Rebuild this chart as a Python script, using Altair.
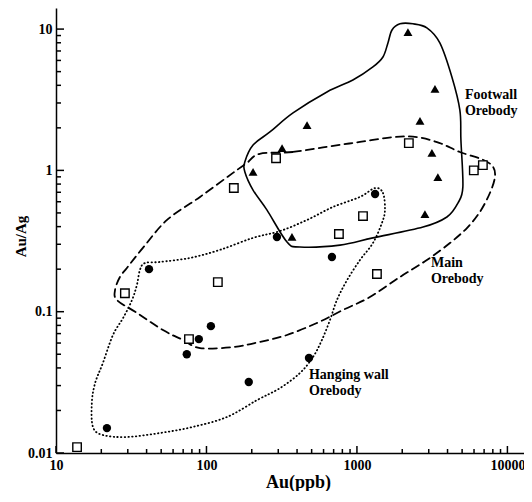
import altair as alt
import pandas as pd

# ---- data ----
# Footwall orebody (filled triangles)
fw_au = [2183, 3300, 2624, 466, 318, 3150, 3450, 2830, 370, 204]
fw_ratio = [9.5, 3.77, 2.24, 2.09, 1.44, 1.33, 0.897, 0.49, 0.338, 0.975]
# Main orebody (open squares)
main_au = [152, 290, 2213, 5980, 6870, 1097, 759, 1358, 119, 28.7, 76.5, 13.8]
main_ratio = [0.75, 1.22, 1.56, 1.0, 1.09, 0.475, 0.355, 0.185, 0.162, 0.135, 0.064, 0.011]
# Hanging wall orebody (filled circles)
hw_au = [1320, 294, 682, 480, 41.5, 107, 89, 74, 191, 21.8]
hw_ratio = [0.68, 0.338, 0.244, 0.047, 0.2, 0.079, 0.064, 0.05, 0.0318, 0.015]

# Field outlines (closed curves)
fw_line_au = [2355, 2917, 3556, 4276, 4831, 4909, 5058, 4688, 3963, 2748, 1277, 771,
              418, 343, 252, 204, 180, 180, 204, 264, 376, 632, 940, 1277, 1489, 1607,
              1710, 1932]
fw_line_ratio = [10.9, 10.2, 7.98, 4.58, 2.67, 1.64, 0.764, 0.587, 0.468, 0.397, 0.333,
                 0.296, 0.287, 0.311, 0.525, 0.726, 0.975, 1.15, 1.51, 1.87, 2.55, 3.59,
                 4.36, 5.40, 6.35, 7.98, 9.86, 10.9]
main_line_au = [226, 376, 632, 1047, 1734, 2506, 3556, 4831, 6871, 8015, 8260, 7650,
                6561, 5383, 4150, 2917, 1932, 1219, 807, 542, 343, 226, 150, 90.6, 69.8,
                51.4, 34.5, 25.4, 24.7, 26.6, 29.6, 37.8, 54.7, 90.6, 150, 186]
main_line_ratio = [1.31, 1.35, 1.47, 1.59, 1.72, 1.72, 1.56, 1.35, 1.19, 1.06, 0.897,
                   0.692, 0.508, 0.391, 0.306, 0.232, 0.176, 0.127, 0.1028, 0.0832,
                   0.0684, 0.0611, 0.0562, 0.0553, 0.0631, 0.0741, 0.098, 0.121, 0.143,
                   0.176, 0.204, 0.283, 0.446, 0.649, 0.96, 1.13]
hw_line_au = [1318, 1489, 1535, 1466, 1277, 1047, 859, 736, 662, 585, 510, 418, 308,
              217, 137, 81.3, 49.1, 29.6, 20.5, 17.6, 17.3, 18.2, 20.5, 23.9, 27.9, 32,
              34.5, 36.1, 39, 49.1, 77.6, 123, 204, 308, 466, 693, 1047]
hw_line_ratio = [0.75, 0.692, 0.525, 0.425, 0.306, 0.232, 0.167, 0.121, 0.0873, 0.0631,
                 0.0477, 0.0368, 0.0288, 0.0237, 0.018, 0.0153, 0.01385, 0.01298, 0.0134,
                 0.0153, 0.0226, 0.0313, 0.0434, 0.0684, 0.0902, 0.121, 0.155, 0.197,
                 0.221, 0.225, 0.24, 0.274, 0.333, 0.372, 0.446, 0.551, 0.649]

# Labels
lab_text = ["Footwall\nOrebody", "Main\nOrebody", "Hanging wall\nOrebody"]
lab_au = [5220, 3105, 480]
lab_ratio = [3.83, 0.248, 0.04]

# Axis ticks
x_major = [10, 100, 1000, 10000]
y_major = [0.01, 0.1, 1, 10]
x_minor = [m * d for d in [10, 100, 1000] for m in range(2, 10)]
y_minor = [m * d for d in [0.01, 0.1, 1] for m in range(2, 10)]

FONT = "Liberation Serif"
W, H = 468, 445
TICK = "black"

xs = alt.Scale(type="log", domain=[10, 12890], nice=False)
ys = alt.Scale(type="log", domain=[0.01, 14.1], nice=False)

xaxis = alt.Axis(values=x_major, format="~g", ticks=False, grid=False, labelFlush=False,
                 domainColor="black", domainWidth=1.5,
                 labelFont=FONT, labelFontWeight="bold", labelFontSize=14,
                 labelColor="black", labelPadding=5,
                 title="Au(ppb)", titleFont=FONT, titleFontWeight="bold",
                 titleFontSize=18, titleColor="black",
                 titleX=242, titleY=34, titleBaseline="alphabetic", titleAlign="center")
yaxis = alt.Axis(values=y_major, format="~g", ticks=False, grid=False, labelFlush=False,
                 domainColor="black", domainWidth=1.5,
                 labelFont=FONT, labelFontWeight="bold", labelFontSize=14,
                 labelColor="black", labelPadding=4,
                 title="Au/Ag", titleFont=FONT, titleFontWeight="bold",
                 titleFontSize=15, titleColor="black",
                 titleX=-36, titleY=228, titleAngle=270, titleBaseline="middle",
                 titleAlign="center")


def X(f):
    return alt.X(f, type="quantitative", scale=xs, axis=xaxis)


def Y(f):
    return alt.Y(f, type="quantitative", scale=ys, axis=yaxis)


def outline(au, ratio, dash, width):
    df = pd.DataFrame({"au": au, "ratio": ratio, "i": range(len(au))})
    kw = dict(color="black", strokeWidth=width, interpolate="cardinal-closed",
              strokeCap="round")
    if dash:
        kw["strokeDash"] = dash
    return alt.Chart(df).mark_line(**kw).encode(x=X("au"), y=Y("ratio"),
                                                 order=alt.Order("i:Q"))


fw_out = outline(fw_line_au, fw_line_ratio, None, 1.6)
main_out = outline(main_line_au, main_line_ratio, [8, 5], 1.8)
hw_out = outline(hw_line_au, hw_line_ratio, [0.5, 3.2], 1.8)

fw_pts = alt.Chart(pd.DataFrame({"au": fw_au, "ratio": fw_ratio})).mark_point(
    shape="triangle-up", filled=True, color="black", size=80, opacity=1
).encode(x=X("au"), y=Y("ratio"))
main_pts = alt.Chart(pd.DataFrame({"au": main_au, "ratio": main_ratio})).mark_point(
    shape="square", filled=True, fill="white", stroke="black", strokeWidth=1.4,
    size=72, opacity=1
).encode(x=X("au"), y=Y("ratio"))
hw_pts = alt.Chart(pd.DataFrame({"au": hw_au, "ratio": hw_ratio})).mark_point(
    shape="circle", filled=True, color="black", size=70, opacity=1
).encode(x=X("au"), y=Y("ratio"))

labels = alt.Chart(pd.DataFrame({"t": lab_text, "au": lab_au, "ratio": lab_ratio})).mark_text(
    font=FONT, fontWeight="bold", fontSize=14, align="left", baseline="top",
    lineBreak="\n", lineHeight=16, color="black"
).encode(x=X("au"), y=Y("ratio"), text="t:N")


def yticks(vals, length):
    return alt.Chart(pd.DataFrame({"v": vals})).mark_rule(
        color=TICK, strokeWidth=1.5
    ).encode(y=Y("v"), x=alt.value(0), x2=alt.value(length))


def xticks(vals, length):
    return alt.Chart(pd.DataFrame({"v": vals})).mark_rule(
        color=TICK, strokeWidth=1.5
    ).encode(x=X("v"), y=alt.value(H), y2=alt.value(H - length))


chart = alt.layer(
    fw_out, main_out, hw_out,
    yticks(y_major, 8), yticks(y_minor, 5),
    xticks(x_major, 7), xticks(x_minor, 4),
    main_pts, fw_pts, hw_pts, labels
).properties(
    width=W, height=H,
    padding={"left": 48, "top": 0, "right": 0, "bottom": 38},
    autosize=alt.AutoSizeParams(type="none"),
    background="white"
).configure_view(stroke=None)

chart.save("out.html", embed_options={"renderer": "svg", "actions": False})
